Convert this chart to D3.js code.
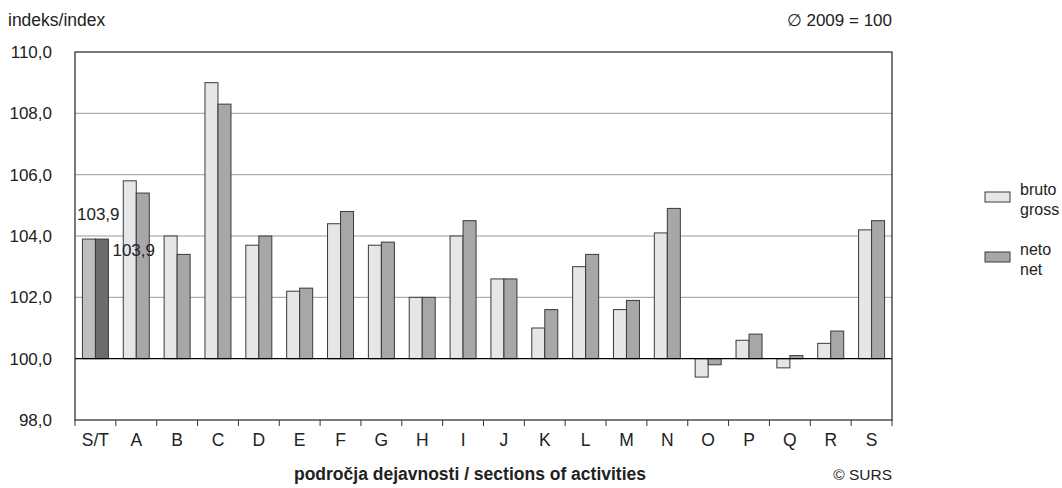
<!DOCTYPE html>
<html><head><meta charset="utf-8">
<script src="https://cdn.jsdelivr.net/npm/d3@7"></script>
<style>body{margin:0;background:#fff}svg{font-family:"Liberation Sans",Arial,sans-serif}</style>
</head><body><svg id="c" width="1062" height="488"></svg>
<script>
const categories = ["S/T","A","B","C","D","E","F","G","H","I","J","K","L","M","N","O","P","Q","R","S"];
const bruto = [103.9,105.8,104.0,109.0,103.7,102.2,104.4,103.7,102.0,104.0,102.6,101.0,103.0,101.6,104.1,99.4,100.6,99.7,100.5,104.2];
const neto  = [103.9,105.4,103.4,108.3,104.0,102.3,104.8,103.8,102.0,104.5,102.6,101.6,103.4,101.9,104.9,99.8,100.8,100.1,100.9,104.5];
const yTicks = [98,100,102,104,106,108,110];
const seriesNames = [["bruto","gross"],["neto","net"]];

const svg = d3.select("#c");
const L=75, R=892, T=52, B=420;
const x = d3.scaleBand().domain(categories).range([L,R]);
const y = d3.scaleLinear().domain([98,110]).range([B,T]);
const fmt = v => d3.format(".1f")(v).replace(".",",");
const barW = 13;
const txt = "#222";

// gridlines
svg.append("g").selectAll("line").data(yTicks.filter(t=>t>98&&t<110&&t!==100)).join("line")
  .attr("x1",L).attr("x2",R).attr("y1",d=>y(d)).attr("y2",d=>y(d))
  .attr("stroke","#999").attr("stroke-width",1);

// bars
const colB = (i)=> i===0 ? "#bfbfc2" : "#e6e6e8";
const colN = (i)=> i===0 ? "#6d6d6f" : "#a7a7aa";
const g = svg.append("g");
categories.forEach((c,i)=>{
  const cx = x(c)+x.bandwidth()/2;
  [[bruto[i],colB(i),cx-barW],[neto[i],colN(i),cx]].forEach(([v,col,x0])=>{
    g.append("rect").attr("x",x0).attr("width",barW)
     .attr("y",Math.min(y(v),y(100))).attr("height",Math.abs(y(v)-y(100)))
     .attr("fill",col).attr("stroke","#3a3a3a").attr("stroke-width",1);
  });
});

// 100 line
svg.append("line").attr("x1",L).attr("x2",R).attr("y1",y(100)).attr("y2",y(100)).attr("stroke","#000").attr("stroke-width",1.3);

// frame
svg.append("rect").attr("x",L).attr("y",T).attr("width",R-L).attr("height",B-T)
  .attr("fill","none").attr("stroke","#333").attr("stroke-width",1.3);

// y axis labels
const ya = svg.append("g").attr("transform",`translate(${L},0)`)
  .call(d3.axisLeft(y).tickValues(yTicks).tickSize(0).tickPadding(23).tickFormat(fmt));
ya.select(".domain").remove();
ya.selectAll("text").attr("font-size",17).attr("fill",txt).attr("font-family","Liberation Sans, Arial, sans-serif");

// x axis
const xa = svg.append("g").attr("transform",`translate(0,${B})`)
  .call(d3.axisBottom(x).tickSize(0).tickPadding(14));
xa.select(".domain").remove();
xa.selectAll("text").attr("font-size",17.5).attr("fill",txt).attr("font-family","Liberation Sans, Arial, sans-serif");
// tick marks at band edges
svg.append("g").selectAll("line").data(categories.map(c=>x(c)).concat([R])).join("line")
  .attr("x1",d=>d).attr("x2",d=>d).attr("y1",B).attr("y2",B+6).attr("stroke","#333");

// value labels for S/T
svg.append("text").attr("x",x("S/T")+2).attr("y",y(bruto[0])-19).text(fmt(bruto[0]))
  .attr("font-size",17).attr("fill",txt);
svg.append("text").attr("x",x("S/T")+x.bandwidth()/2+barW+4).attr("y",y(neto[0])+17).text(fmt(neto[0]))
  .attr("font-size",17).attr("fill",txt);

// header texts
svg.append("text").attr("x",8).attr("y",26).text("indeks/index").attr("font-size",17.5).attr("fill",txt);
svg.append("text").attr("x",R).attr("y",26).attr("text-anchor","end").text("\u2205 2009 = 100").attr("font-size",17).attr("fill",txt);

// legend
const lg = svg.append("g");
[[colB(1),0],[colN(1),1]].forEach(([col,k])=>{
  const y0 = k*60;
  lg.append("rect").attr("x",985).attr("y",192+y0).attr("width",25).attr("height",10)
    .attr("fill",col).attr("stroke","#3a3a3a");
  lg.append("text").attr("x",1020).attr("y",195+y0).text(seriesNames[k][0]).attr("font-size",16).attr("fill",txt);
  lg.append("text").attr("x",1020).attr("y",215+y0).text(seriesNames[k][1]).attr("font-size",16).attr("fill",txt);
});

// axis title
svg.append("text").attr("x",470).attr("y",480).attr("text-anchor","middle").attr("font-weight","bold")
  .attr("font-size",17.5).attr("fill",txt).text("področja dejavnosti / sections of activities");
svg.append("text").attr("x",R).attr("y",480).attr("text-anchor","end").attr("font-size",15.5).attr("fill",txt).text("© SURS");
</script></body></html>
